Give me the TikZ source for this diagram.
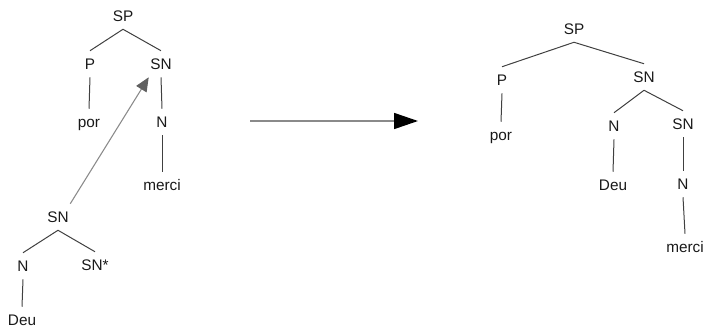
\documentclass[tikz,border=0pt]{standalone}
\usepackage{fontspec}
\setmainfont{Liberation Sans}
\usepackage{tikz}
\usetikzlibrary{arrows.meta,
		calc}
\definecolor{branch}{HTML}{404040}
\definecolor{movecol}{HTML}{8A8A8A}
\definecolor{movetip}{HTML}{606060}
\begin{document}
\begin{tikzpicture}[
				x=0.75pt,y=-0.75pt,
				cat node/.style={inner xsep=1pt,inner ysep=5.65pt,text height=8.2pt,text depth=0pt,font=\fontsize{11.5}{13}\selectfont,text=black!90},
				branch line/.style={draw=branch,line width=0.75pt},
				move line/.style={draw=movecol,line width=0.8pt,-{Triangle[length=10.5pt,width=9pt,color=movetip]}},
				big arrow/.style={draw=movecol,line width=1.2pt,-{Triangle[length=18pt,width=12pt,color=black]}}
				]
		\useasboundingbox (0,0) rectangle (705,332);
		% left: two separate trees
		\node[cat node] (lsp) at (123,16) {SP};
		\node[cat node] (lp) at (90,64) {P};
		\node[cat node] (lsn) at (161,64) {SN};
		\node[cat node] (lpor) at (89,122) {por};
		\node[cat node] (ln) at (162,122) {N};
		\node[cat node] (lmerci) at (162,185) {merci};
		\node[cat node] (asn) at (58,217) {SN};
		\node[cat node] (an) at (23,266) {N};
		\node[cat node] (afoot) at (95,265) {SN*};
		\node[cat node] (adeu) at (22,320) {Deu};
		\path[branch line] (lsp.south) -- (lp.north);
		\path[branch line] (lsp.south) -- (lsn.north);
		\path[branch line] (lp.south) -- (lpor.north);
		\path[branch line] (lsn.south) -- (ln.north);
		\path[branch line] (ln.south) -- (lmerci.north);
		\path[branch line] (asn.south) -- (an.north);
		\path[branch line] (asn.south) -- (afoot.north);
		\path[branch line] (an.south) -- (adeu.north);
		\path[move line] (asn.north east) -- (lsn.south west);
		% middle arrow
		\coordinate (from) at (250,121);
		\coordinate (to) at (418,121);
		\path[big arrow] (from) -- (to);
		% right: result
		\node[cat node] (rsp) at (574,29) {SP};
		\node[cat node] (rp) at (502,80) {P};
		\node[cat node] (rsn) at (644,77) {SN};
		\node[cat node] (rpor) at (501,135) {por};
		\node[cat node] (rn) at (614,126) {N};
		\node[cat node] (rsnb) at (683,124) {SN};
		\node[cat node] (rdeu) at (613,185) {Deu};
		\node[cat node] (rnb) at (683,184) {N};
		\node[cat node] (rmerci) at (685,247) {merci};
		\path[branch line] (rsp.south) -- (rp.north);
		\path[branch line] (rsp.south) -- (rsn.north);
		\path[branch line] (rp.south) -- (rpor.north);
		\path[branch line] (rsn.south) -- (rn.north);
		\path[branch line] (rsn.south) -- (rsnb.north);
		\path[branch line] (rn.south) -- (rdeu.north);
		\path[branch line] (rsnb.south) -- (rnb.north);
		\path[branch line] (rnb.south) -- (rmerci.north);
\end{tikzpicture}
\end{document}
